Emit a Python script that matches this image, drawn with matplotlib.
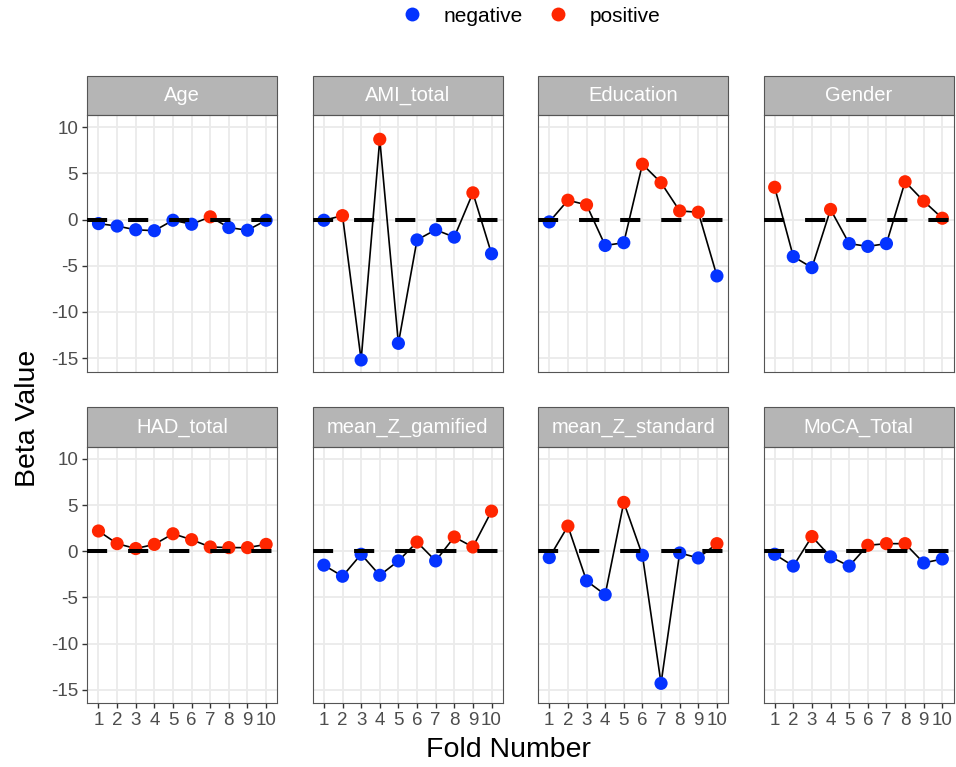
import matplotlib
matplotlib.use("Agg")
import matplotlib.pyplot as plt
from matplotlib.lines import Line2D
from matplotlib.patches import Rectangle

plt.rcParams['font.family'] = ['Liberation Sans', 'DejaVu Sans']
plt.rcParams['axes.unicode_minus'] = False

# Data
folds = list(range(1, 11))
facets = ['Age', 'AMI_total', 'Education', 'Gender',
          'HAD_total', 'mean_Z_gamified', 'mean_Z_standard', 'MoCA_Total']
age = [-0.43, -0.7, -1.1, -1.2, -0.07, -0.5, 0.3, -0.86, -1.15, -0.07]
ami_total = [-0.07, 0.43, -15.2, 8.7, -13.4, -2.2, -1.1, -1.9, 2.9, -3.7]
education = [-0.25, 2.1, 1.6, -2.8, -2.5, 6.0, 4.0, 0.94, 0.8, -6.1]
gender = [3.5, -4.0, -5.2, 1.1, -2.6, -2.9, -2.6, 4.1, 2.0, 0.15]
had_total = [2.2, 0.83, 0.3, 0.75, 1.9, 1.26, 0.47, 0.4, 0.4, 0.75]
mean_z_gamified = [-1.5, -2.7, -0.32, -2.6, -1.04, 1.0, -1.04, 1.55, 0.47, 4.35]
mean_z_standard = [-0.68, 2.73, -3.2, -4.7, 5.3, -0.43, -14.3, -0.18, -0.72, 0.83]
moca_total = [-0.32, -1.6, 1.6, -0.6, -1.6, 0.65, 0.83, 0.83, -1.26, -0.83]
series = [age, ami_total, education, gender,
          had_total, mean_z_gamified, mean_z_standard, moca_total]
y_ticks = [10, 5, 0, -5, -10, -15]

blue = '#0433FF'
red = '#FF2600'

W, H = 956, 767
fig = plt.figure(figsize=(W / 100, H / 100), dpi=100)

col_left = [87.3, 312.7, 538.1, 763.5]
panel_w = 190
row_top = [115, 446.7]
panel_h = 256.5
strip_h = 39.5

for i, (name, vals) in enumerate(zip(facets, series)):
    r, c = divmod(i, 4)
    ax = fig.add_axes([col_left[c] / W, (H - row_top[r] - panel_h) / H,
                       panel_w / W, panel_h / H])
    ax.set_xlim(0.4, 10.6)
    ax.set_ylim(-16.45, 11.33)
    ax.set_xticks(folds)
    ax.set_yticks(y_ticks)
    ax.grid(True, color='#EBEBEB', lw=1.3)
    ax.set_axisbelow(True)
    for s in ax.spines.values():
        s.set_color('#555555')
        s.set_linewidth(0.8)

    ax.plot(folds, vals, color='black', lw=1.2, zorder=2)
    cols = [red if v > 0 else blue for v in vals]
    ax.scatter(folds, vals, c=cols, s=90, edgecolors='none', zorder=3)
    ax.axhline(0, color='black', lw=2.9, dashes=(5, 5.2), zorder=4)

    ax.tick_params(colors='#333333', labelcolor='#4D4D4D', labelsize=13.5,
                   length=3.6, width=1.0, pad=3)
    if c != 0:
        ax.tick_params(axis='y', left=False, labelleft=False)
    if r == 0:
        ax.tick_params(axis='x', bottom=False, labelbottom=False)

    h = strip_h / panel_h
    ax.add_patch(Rectangle((0, 1), 1, h, transform=ax.transAxes,
                           facecolor='#B5B5B5', edgecolor='#555555',
                           lw=0.8, clip_on=False))
    ax.text(0.5, 1 + h / 2, name, transform=ax.transAxes, ha='center',
            va='center', color='white', fontsize=14.5)

fig.text(28 / W, (H - 418) / H, 'Beta Value', rotation=90, ha='center',
         va='center', fontsize=20.5)
fig.text(508 / W, (H - 750) / H, 'Fold Number', ha='center', va='center',
         fontsize=20.5)

handles = [Line2D([], [], ls='none', marker='o', ms=10, color=blue, mec='none'),
           Line2D([], [], ls='none', marker='o', ms=10, color=red, mec='none')]
fig.legend(handles, ['negative', 'positive'], loc='center',
           bbox_to_anchor=(526 / W, (H - 16) / H), ncol=2, frameon=False,
           fontsize=15, handletextpad=0.5, columnspacing=0.7)

fig.savefig('out.png', dpi=100)
